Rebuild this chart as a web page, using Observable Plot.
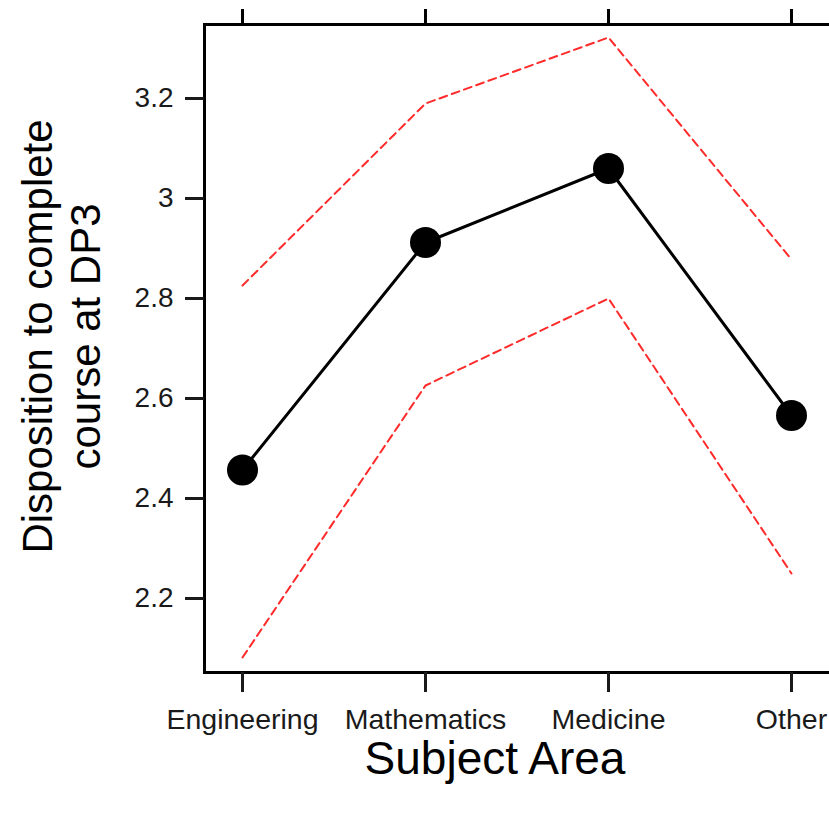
<!DOCTYPE html>
<html>
<head>
<meta charset="utf-8">
<script src="https://cdn.jsdelivr.net/npm/d3@7"></script>
<script src="https://cdn.jsdelivr.net/npm/@observablehq/plot@0.6"></script>
<style>
  html, body { margin: 0; padding: 0; background: white; overflow: hidden; }
  #chart { width: 829px; height: 813px; overflow: hidden; }
</style>
</head>
<body>
<div id="chart"></div>
<script>
const categories = ["Engineering", "Mathematics", "Medicine", "Other"];
const fitValues = [2.457, 2.912, 3.060, 2.566];
const upperValues = [2.826, 3.190, 3.322, 2.878];
const lowerValues = [2.082, 2.626, 2.800, 2.250];
const yTicks = [2.2, 2.4, 2.6, 2.8, 3.0, 3.2];
const yTickLabels = ["2.2", "2.4", "2.6", "2.8", "3", "3.2"];
const xTitle = "Subject Area";
const yTitle = "Disposition to complete\ncourse at DP3";

const fit = categories.map((c, i) => ({cat: c, v: fitValues[i]}));
const upper = categories.map((c, i) => ({cat: c, v: upperValues[i]}));
const lower = categories.map((c, i) => ({cat: c, v: lowerValues[i]}));

const chart = Plot.plot({
  width: 835,
  height: 813,
  marginLeft: 204,
  marginRight: 4,
  marginTop: 24,
  marginBottom: 141,
  style: {fontFamily: "'Liberation Sans', Arial, sans-serif", maxWidth: "none", background: "white"},
  x: {type: "point", domain: categories, range: [241, 792], padding: 0},
  y: {domain: [2.052, 3.348]},
  marks: [
    Plot.frame({stroke: "black", strokeWidth: 3}),
    Plot.axisY({ticks: yTicks, tickFormat: (d) => yTickLabels[yTicks.indexOf(d)], tickSize: 19, tickPadding: 12, strokeWidth: 3, fontSize: 28, label: null, color: "#1a1a1a"}),
    Plot.axisX({anchor: "bottom", tickSize: 20, tickPadding: 16, strokeWidth: 3, fontSize: 28.5, label: null, color: "#1a1a1a"}),
    Plot.axisX({anchor: "top", tickSize: 16, tickFormat: () => "", strokeWidth: 3, label: null}),
    Plot.line(upper, {x: "cat", y: "v", stroke: "#ff2a2a", strokeWidth: 2, strokeDasharray: "8,5"}),
    Plot.line(lower, {x: "cat", y: "v", stroke: "#ff2a2a", strokeWidth: 2, strokeDasharray: "8,5"}),
    Plot.line(fit, {x: "cat", y: "v", stroke: "black", strokeWidth: 3}),
    Plot.dot(fit, {x: "cat", y: "v", r: 15.5, fill: "black", stroke: "none"}),
    Plot.text([yTitle], {text: d => d, frameAnchor: "left", rotate: -90, dx: -144, dy: -12, fontSize: 42, lineHeight: 1.15, textAnchor: "middle", lineAnchor: "middle", fill: "black"}),
    Plot.text([xTitle], {text: d => d, frameAnchor: "bottom", dx: -23, dy: 87, fontSize: 46, textAnchor: "middle", lineAnchor: "middle", fill: "black"})
  ]
});
document.getElementById("chart").appendChild(chart);
</script>
</body>
</html>
